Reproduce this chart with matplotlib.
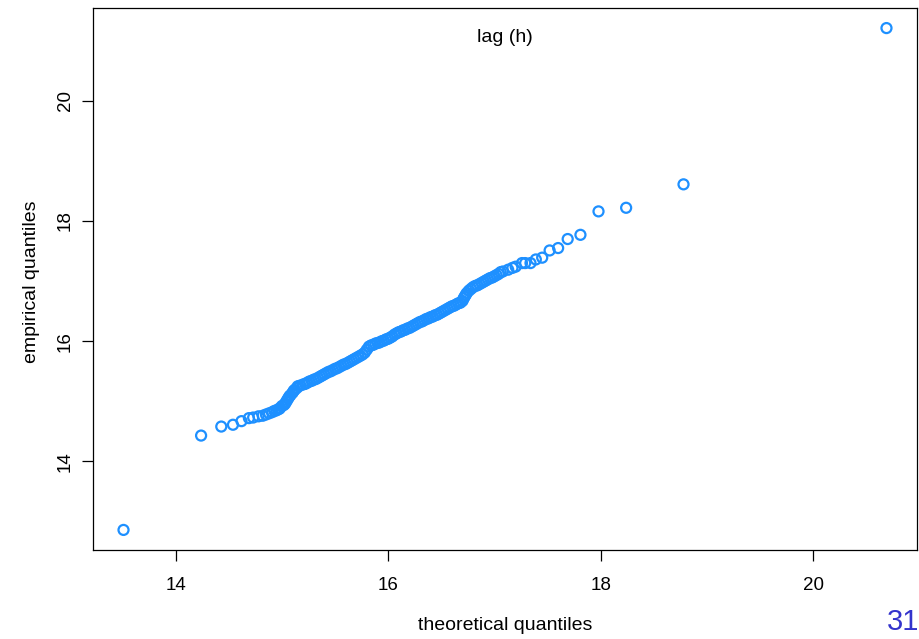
import matplotlib.pyplot as plt

plt.rcParams['font.family'] = ['Liberation Sans', 'DejaVu Sans']

# theoretical quantiles (x) and sorted empirical values (y)
theoretical = [
    13.51, 14.24, 14.43, 14.54, 14.62,
    14.69, 14.73, 14.78, 14.82, 14.85, 14.88, 14.91, 14.93, 14.95, 14.97, 14.98, 15.00,
    15.02, 15.03, 15.04, 15.05, 15.06, 15.07, 15.08, 15.10, 15.11, 15.12, 15.14, 15.15, 15.17, 15.20,
    15.22, 15.24, 15.26, 15.28, 15.30, 15.32, 15.34, 15.36, 15.38, 15.40, 15.42, 15.44, 15.46, 15.48,
    15.50, 15.52, 15.54, 15.56, 15.58, 15.60, 15.62, 15.64, 15.66, 15.68, 15.70, 15.72, 15.74,
    15.76, 15.78, 15.80, 15.82, 15.84, 15.86, 15.88, 15.90, 15.92, 15.94, 15.96, 15.98, 16.00,
    16.02, 16.04, 16.06, 16.08, 16.10, 16.12, 16.14, 16.16, 16.18, 16.20, 16.22, 16.24, 16.26, 16.28,
    16.30, 16.32, 16.34, 16.36, 16.38, 16.40, 16.42, 16.44, 16.46, 16.48, 16.50, 16.52, 16.54, 16.56,
    16.58, 16.60, 16.62, 16.64, 16.66, 16.68,
    16.70, 16.71, 16.72, 16.73, 16.74, 16.76, 16.78, 16.80, 16.82, 16.84, 16.86, 16.88, 16.90, 16.92,
    16.94, 16.96, 16.98, 17.00, 17.02, 17.04, 17.06,
    17.08, 17.13, 17.17, 17.20, 17.26, 17.29, 17.34, 17.39, 17.45, 17.52, 17.60, 17.69, 17.81,
    17.98, 18.24, 18.78, 20.69,
]
empirical = [
    12.86, 14.43, 14.58, 14.61, 14.67,
    14.72, 14.73, 14.75, 14.76, 14.78, 14.80, 14.82, 14.84, 14.85, 14.87, 14.88, 14.92,
    14.94, 14.96, 14.99, 15.02, 15.05, 15.08, 15.10, 15.14, 15.17, 15.19, 15.22, 15.25, 15.26, 15.28,
    15.29, 15.31, 15.33, 15.34, 15.36, 15.37, 15.39, 15.41, 15.43, 15.45, 15.47, 15.49, 15.50, 15.52,
    15.54, 15.55, 15.57, 15.59, 15.61, 15.62, 15.64, 15.66, 15.68, 15.70, 15.72, 15.74, 15.76,
    15.78, 15.81, 15.86, 15.91, 15.93, 15.94, 15.96, 15.97, 15.98, 16.00, 16.01, 16.03, 16.04,
    16.06, 16.08, 16.11, 16.13, 16.15, 16.16, 16.18, 16.19, 16.21, 16.22, 16.24, 16.26, 16.28, 16.30,
    16.32, 16.33, 16.35, 16.37, 16.38, 16.40, 16.41, 16.43, 16.44, 16.46, 16.48, 16.50, 16.52, 16.54,
    16.56, 16.58, 16.59, 16.61, 16.63, 16.64,
    16.67, 16.71, 16.74, 16.77, 16.80, 16.84, 16.87, 16.90, 16.92, 16.93, 16.95, 16.97, 16.99, 17.01,
    17.03, 17.05, 17.06, 17.08, 17.10, 17.12, 17.15,
    17.16, 17.19, 17.22, 17.24, 17.30, 17.30, 17.30, 17.36, 17.39, 17.51, 17.55, 17.70, 17.77,
    18.16, 18.22, 18.61, 21.21,
]

x_ticks = [14, 16, 18, 20]
y_ticks = [14, 16, 18, 20]
upper_lags = ['0', '10', '20', '30', '40']

W, H = 920, 639
fig = plt.figure(figsize=(W / 100, H / 100), dpi=100)
ax = fig.add_axes([93 / W, 89 / H, 824 / W, 542 / H])

ax.scatter(theoretical, empirical, s=52, facecolors='none',
           edgecolors='#1E90FF', linewidths=1.6, zorder=3)

# R-style limits: data range padded by 4%
xr = max(theoretical) - min(theoretical)
yr = max(empirical) - min(empirical)
ax.set_xlim(min(theoretical) - 0.04 * xr, max(theoretical) + 0.04 * xr)
ax.set_ylim(min(empirical) - 0.04 * yr, max(empirical) + 0.04 * yr)

ax.set_xticks(x_ticks)
ax.set_yticks(y_ticks)
ax.tick_params(direction='out', length=8, width=0.9, labelsize=13.5, colors='black')
ax.tick_params(axis='x', pad=11.5)
ax.tick_params(axis='y', pad=6, labelrotation=90)
for lab in ax.get_yticklabels():
    lab.set_va('center')

for sp in ax.spines.values():
    sp.set_linewidth(0.9)

# axis titles
fig.text(505 / W, 9 / H, 'theoretical quantiles', ha='center', va='baseline', fontsize=14)
fig.text(32 / W, 1 - 282 / H, 'empirical quantiles', ha='center', va='center',
         rotation=90, fontsize=14)

ax.text(0.5, 1 - 29 / 542, 'lag (h)', transform=ax.transAxes, ha='center', va='center', fontsize=14)

# tick labels of the panel above, mostly cut off by the top edge
for xp, lab in zip([121, 315, 507, 697, 887], upper_lags):
    fig.text(xp / W, 1 - 4 / H, lab, ha='center', va='bottom', fontsize=13.5)

fig.text(903 / W, 17 / H, '31', ha='center', va='center', fontsize=21, color='#3333CC')

fig.savefig('out.png', dpi=100)
